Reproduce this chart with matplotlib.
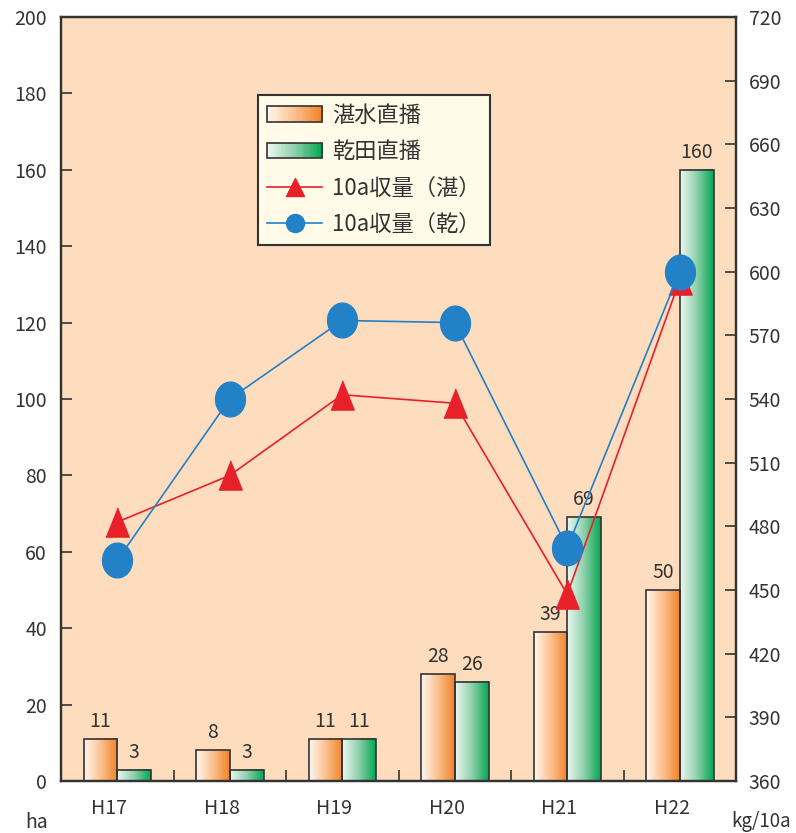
import numpy as np
import matplotlib
matplotlib.use('Agg')
import matplotlib.pyplot as plt
from matplotlib.colors import LinearSegmentedColormap
from matplotlib.legend_handler import HandlerBase
from matplotlib.patches import Rectangle
from matplotlib.lines import Line2D
from matplotlib.transforms import ScaledTranslation

plt.rcParams['font.family'] = ['Noto Sans CJK JP', 'DejaVu Sans']

# area (ha) and yield per 10a (kg) by year
years = ['H17', 'H18', 'H19', 'H20', 'H21', 'H22']
tansui_area = [11, 8, 11, 28, 39, 50]      # 湛水直播
kanden_area = [3, 3, 11, 26, 69, 160]      # 乾田直播
tansui_yield = [482, 504, 542, 538, 448, 596]
kanden_yield = [464, 540, 577, 576, 470, 600]

ink = '#333333'
peach = '#FEDCBE'
red = '#E8202A'
blue = '#2381C8'
orange_cm = LinearSegmentedColormap.from_list('orng', ['#FFF8F0', '#FBC08E', '#F28128'])
green_cm = LinearSegmentedColormap.from_list('grn', ['#EEF8F2', '#8DD0AA', '#00A651'])


class GradientHandler(HandlerBase):
    # legend key drawn as a left-to-right colour ramp with a dark border
    def __init__(self, cmap):
        super().__init__()
        self.cmap = cmap

    def create_artists(self, legend, orig_handle, xdescent, ydescent,
                       width, height, fontsize, trans):
        n = 40
        arts = []
        for i in range(n):
            arts.append(Rectangle((-xdescent + width * i / n, -ydescent),
                                  width / n * 1.05, height,
                                  facecolor=self.cmap((i + 0.5) / n),
                                  edgecolor='none', transform=trans))
        arts.append(Rectangle((-xdescent, -ydescent), width, height,
                              facecolor='none', edgecolor=ink, lw=1.2,
                              transform=trans))
        return arts


def gradient_bars(ax, xs, heights, width, cmap):
    bars = ax.bar(xs, heights, width, align='edge', facecolor='none',
                  edgecolor=ink, lw=1.2, zorder=3)
    ramp = np.linspace(0, 1, 256).reshape(1, -1)
    for b in bars:
        x0 = b.get_x()
        ax.imshow(ramp, extent=[x0, x0 + b.get_width(), 0, b.get_height()],
                  aspect='auto', cmap=cmap, zorder=2, interpolation='bilinear')
    return bars


fig = plt.figure(figsize=(7.96, 8.33), dpi=100)
ax = fig.add_axes([61 / 796, 1 - 781 / 833, 675 / 796, 764 / 833])
ax.set_facecolor(peach)

x = np.arange(len(years))
bw = 0.3
gradient_bars(ax, x - bw, tansui_area, bw, orange_cm)
gradient_bars(ax, x, kanden_area, bw, green_cm)

for xi, v in zip(x, tansui_area):
    ax.annotate(str(v), (xi - bw / 2, v), xytext=(0, 5), textcoords='offset points',
                ha='center', va='bottom', fontsize=14, color=ink)
for xi, v in zip(x, kanden_area):
    ax.annotate(str(v), (xi + bw / 2, v), xytext=(0, 5), textcoords='offset points',
                ha='center', va='bottom', fontsize=14, color=ink)

ax.set_xlim(-0.5, len(years) - 0.5)
ax.set_ylim(0, 200)
ax.set_yticks(range(0, 201, 20))
ax.set_xticks(x)
ax.set_xticklabels(years)
ax.set_xticks(x[:-1] + 0.5, minor=True)
ax.tick_params(axis='x', which='major', length=0, pad=12, labelsize=14, colors=ink)
ax.tick_params(axis='x', which='minor', direction='in', length=8, width=1.2, color=ink)
ax.tick_params(axis='y', direction='in', length=8, width=1.2, color=ink,
               pad=10, labelsize=14, labelcolor=ink)
# year labels sit a little left of the bar pairs
shift = ScaledTranslation(-8 / 100, 0, fig.dpi_scale_trans)
for lbl in ax.get_xticklabels():
    lbl.set_transform(lbl.get_transform() + shift)

# yield lines on the right-hand scale
ax2 = ax.twinx()
ax2.set_ylim(360, 720)
ax2.set_yticks(range(360, 721, 30))
ax2.tick_params(axis='y', direction='in', length=8, width=1.2, color=ink,
                pad=9, labelsize=14, labelcolor=ink)

tri = [(-0.4, -0.5), (0.4, -0.5), (0.0, 0.5)]
t = np.linspace(0, 2 * np.pi, 60)
oval = list(zip(0.43 * np.cos(t), 0.5 * np.sin(t)))

ax2.plot(x, tansui_yield, color=red, lw=1.2, marker=tri, ms=21, zorder=4)
ax2.plot(x, kanden_yield, color=blue, lw=1.2, marker=oval, ms=25, zorder=5)

for a in (ax, ax2):
    for s in a.spines.values():
        s.set_color(ink)
        s.set_linewidth(1.6)

h_tan = Rectangle((0, 0), 1, 1)
h_kan = Rectangle((0, 0), 1, 1)
h_ty = Line2D([], [], color=red, lw=1.2, marker='^', ms=13)
h_ky = Line2D([], [], color=blue, lw=1.2, marker='o', ms=13)
leg = ax2.legend([h_tan, h_kan, h_ty, h_ky],
                 ['湛水直播', '乾田直播', '10a収量（湛）', '10a収量（乾）'],
                 handler_map={h_tan: GradientHandler(orange_cm),
                              h_kan: GradientHandler(green_cm)},
                 loc='upper left', bbox_to_anchor=(197 / 675, 686 / 764),
                 borderaxespad=0, fontsize=16, fancybox=False,
                 handlelength=2.5, handleheight=0.7, handletextpad=0.45,
                 labelspacing=0.6, borderpad=0.4, framealpha=1)
leg.get_frame().set_facecolor('#FFFBE8')
leg.get_frame().set_edgecolor(ink)
leg.get_frame().set_linewidth(1.5)
for txt in leg.get_texts():
    txt.set_color(ink)

fig.text(25 / 796, 1 - 822 / 833, 'ha', fontsize=14, color=ink, va='center')
fig.text(731 / 796, 1 - 822 / 833, 'kg/10a', fontsize=13.5, color=ink, va='center')

fig.savefig('out.png', dpi=100)
